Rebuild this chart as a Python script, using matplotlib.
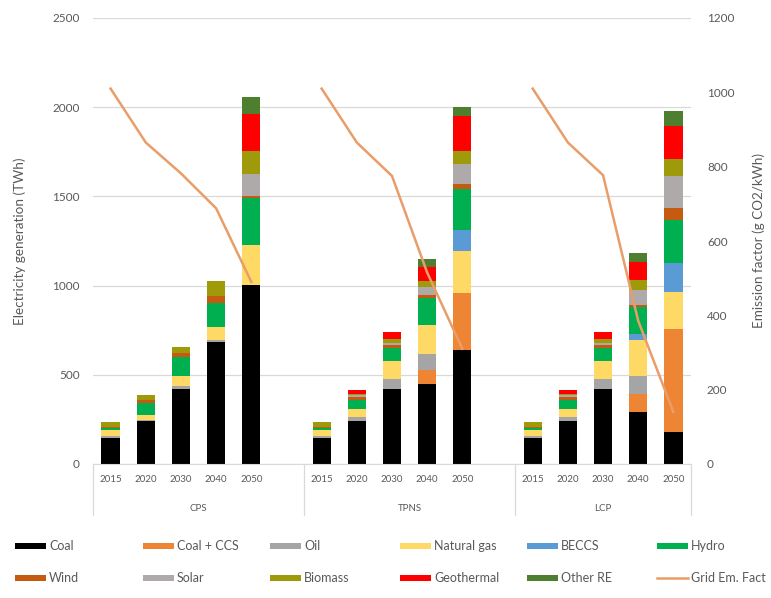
import numpy as np
import matplotlib
matplotlib.use("Agg")
import matplotlib.pyplot as plt
from matplotlib.lines import Line2D
from matplotlib.patches import Rectangle

plt.rcParams['font.family'] = ['Lato', 'DejaVu Sans']

# Categories: 5 years per scenario, blank slot between scenarios
years = ['2015', '2020', '2030', '2040', '2050']
scenarios = ['CPS', 'TPNS', 'LCP']

# Generation per source (TWh), CPS 2015..2050, TPNS 2015..2050, LCP 2015..2050
coal       = [148, 239, 421, 684, 1004, 148, 239, 421, 449, 637, 148, 239, 421, 289, 177]
coal_ccs   = [0, 0, 0, 0, 0,           0, 0, 0, 79, 320,       0, 0, 0, 104, 582]
oil        = [10, 8, 15, 10, 0,        10, 22, 55, 87, 0,      10, 22, 55, 100, 0]
natural_gas = [30, 25, 60, 75, 225,    30, 48, 100, 163, 235,  30, 48, 100, 200, 207]
beccs      = [0, 0, 0, 0, 0,           0, 0, 0, 0, 122,        0, 0, 0, 38, 160]
hydro      = [15, 72, 104, 131, 263,   15, 50, 75, 151, 225,   15, 50, 75, 151, 244]
wind       = [5, 15, 20, 40, 10,       5, 18, 15, 18, 29,      5, 18, 15, 12, 66]
solar      = [2, 0, 0, 0, 122,         2, 8, 15, 47, 112,      2, 8, 15, 82, 179]
biomass    = [25, 30, 36, 83, 132,     25, 10, 20, 29, 76,     25, 10, 20, 56, 94]
geothermal = [3, 0, 0, 0, 206,         3, 20, 40, 84, 197,     3, 20, 40, 103, 188]
other_re   = [0, 0, 0, 0, 94,          0, 0, 0, 41, 47,        0, 0, 0, 47, 84]

# Grid emission factor (g CO2/kWh)
em_cps  = [1010, 865, 782, 688, 490]
em_tpns = [1010, 865, 775, 515, 310]
em_lcp  = [1010, 865, 777, 385, 140]

sources = [
    ('Coal', coal, '#000000'),
    ('Coal + CCS', coal_ccs, '#EE8535'),
    ('Oil', oil, '#A5A5A5'),
    ('Natural gas', natural_gas, '#FFD966'),
    ('BECCS', beccs, '#5B9BD5'),
    ('Hydro', hydro, '#00B050'),
    ('Wind', wind, '#C55A11'),
    ('Solar', solar, '#AEAAAA'),
    ('Biomass', biomass, '#9E9A0A'),
    ('Geothermal', geothermal, '#FF0000'),
    ('Other RE', other_re, '#4E7F2E'),
]
line_color = '#E99D68'
text_color = '#595959'
grid_color = '#D9D9D9'

# slot positions: 0-4, 6-10, 12-16
x = np.array([0, 1, 2, 3, 4, 6, 7, 8, 9, 10, 12, 13, 14, 15, 16])

fig = plt.figure(figsize=(7.71, 5.98), dpi=100)
ax = fig.add_axes([93 / 771, 1 - 464 / 598, 598 / 771, 446 / 598])

bottom = np.zeros(len(x))
for name, vals, col in sources:
    vals = np.array(vals, dtype=float)
    ax.bar(x, vals, width=0.52, bottom=bottom, color=col, linewidth=0, zorder=2)
    bottom += vals

ax.set_xlim(-0.5, 16.5)
ax.set_ylim(0, 2500)
ax.set_yticks(np.arange(0, 2501, 500))
ax.grid(axis='y', color=grid_color, linewidth=0.9, zorder=0)
ax.set_axisbelow(True)
for s in ['left', 'right', 'top']:
    ax.spines[s].set_visible(False)
ax.spines['bottom'].set_color(grid_color)
ax.tick_params(axis='y', length=0, pad=9.5, labelsize=8.5, labelcolor=text_color)
ax.set_xticks(x)
ax.set_xticklabels(years * 3)
ax.tick_params(axis='x', length=0, pad=8, labelsize=7, labelcolor=text_color)
ax.set_ylabel('Electricity generation (TWh)', fontsize=9.7, color=text_color, labelpad=19)

# scenario labels and separators
centers = [2.5, 8.5, 14]
for name, c in zip(scenarios, centers):
    ax.annotate(name, xy=(c, 0), xycoords=('data', 'axes fraction'),
                xytext=(0, -29), textcoords='offset points',
                ha='center', va='top', fontsize=7, color=text_color)
for sx in [-0.5, 5.5, 11.5, 16.5]:
    ax.add_line(Line2D([sx, sx], [0, -0.115], transform=ax.get_xaxis_transform(),
                       color=grid_color, linewidth=0.9, clip_on=False))

# emission factor on secondary axis
ax2 = ax.twinx()
ax2.set_ylim(0, 1200)
ax2.set_yticks(np.arange(0, 1201, 200))
for s in ['left', 'right', 'top', 'bottom']:
    ax2.spines[s].set_visible(False)
ax2.tick_params(axis='y', length=0, pad=11.5, labelsize=8.5, labelcolor=text_color)
for xs, em in zip([x[0:5], x[5:10], x[10:15]], [em_cps, em_tpns, em_lcp]):
    ax2.plot(xs, em, color=line_color, linewidth=1.8, zorder=3)
ax2.set_ylabel('Emission factor (g CO2/kWh)', fontsize=9.7, color=text_color,
               rotation=90, labelpad=13)

# legend, 2 rows x 6 columns
col_x = [15, 143, 270, 400, 527, 657]
row_y = [546, 578]
legend_items = [(n, c, 'patch') for n, v, c in sources] + [('Grid Em. Fact', line_color, 'line')]
for i, (name, col, kind) in enumerate(legend_items):
    r, c = divmod(i, 6)
    px, py = col_x[c], row_y[r]
    fx, fy = px / 771, 1 - py / 598
    if kind == 'patch':
        fig.add_artist(Rectangle((fx, fy - 3 / 598), 31 / 771, 6 / 598,
                                 transform=fig.transFigure, color=col, linewidth=0))
    else:
        fig.add_artist(Line2D([fx, fx + 31 / 771], [fy, fy], transform=fig.transFigure,
                              color=col, linewidth=1.8))
    fig.text(fx + 34 / 771, fy, name, fontsize=9, color=text_color, va='center', ha='left')

fig.savefig('out.png', dpi=100)
